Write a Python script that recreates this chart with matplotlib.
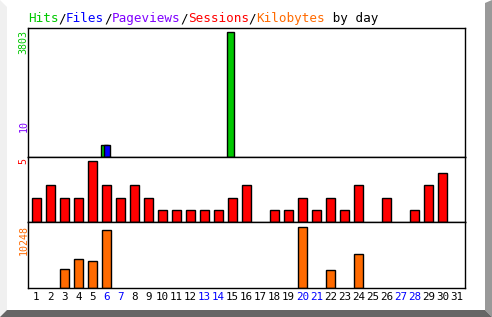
import matplotlib
matplotlib.use("Agg")
import matplotlib.pyplot as plt
from matplotlib.patches import Polygon

# daily stats
days = list(range(1, 32))
weekend = [6, 7, 13, 14, 20, 21, 27, 28]
hits = [0, 0, 0, 0, 0, 368, 0, 0, 0, 0, 0, 0, 0, 0, 3803, 0,
        0, 0, 0, 0, 0, 0, 0, 0, 0, 0, 0, 0, 0, 0, 0]
files = [0, 0, 0, 0, 0, 365, 0, 0, 0, 0, 0, 0, 0, 0, 0, 0,
         0, 0, 0, 0, 0, 0, 0, 0, 0, 0, 0, 0, 0, 0, 0]
pageviews = [0, 0, 0, 0, 0, 10, 0, 0, 0, 0, 0, 0, 0, 0, 0, 0,
             0, 0, 0, 0, 0, 0, 0, 0, 0, 0, 0, 0, 0, 0, 0]
sessions = [2, 3, 2, 2, 5, 3, 2, 3, 2, 1, 1, 1, 1, 1, 2, 3,
            0, 1, 1, 2, 1, 2, 1, 3, 0, 2, 0, 1, 3, 4, 0]
kbytes = [0, 0, 3190, 4870, 4540, 9740, 0, 0, 0, 0, 0, 0, 0, 0, 0, 0,
          0, 0, 0, 10248, 0, 3020, 0, 5710, 0, 0, 0, 0, 0, 0, 0]

C_HIT = "#00c800"
C_FILE = "#0000ff"
C_PAGE = "#8000ff"
C_SESS = "#ff0000"
C_KB = "#ff6a00"

W, H = 492, 317
fig = plt.figure(figsize=(W / 100, H / 100), dpi=100)
fig.patch.set_facecolor("white")

# bevel border
fig.patches.append(Polygon([(0, 0), (7, 7), (7, H - 7), (0, H)], closed=True,
                           transform=None, facecolor="#f0f0f0", edgecolor="none"))
fig.patches.append(Polygon([(W, 0), (W - 7, 7), (W - 7, H - 3), (W, H)], closed=True,
                           transform=None, facecolor="#999999", edgecolor="none"))
fig.patches.append(Polygon([(0, 0), (W, 0), (W - 7, 7), (7, 7)], closed=True,
                           transform=None, facecolor="#666666", edgecolor="none"))


def px_axes(x0, y0, x1, y1):
    # pixel box (from top-left) -> figure axes
    return fig.add_axes([x0 / W, 1 - y1 / H, (x1 - x0) / W, (y1 - y0) / H])


L, R = 28, 465
ax1 = px_axes(L, 28, R, 157)
ax2 = px_axes(L, 157, R, 222)
ax3 = px_axes(L, 222, R, 288)

lw = 1.0
for ax in (ax1, ax2, ax3):
    ax.set_xlim(0.4, 31.6)
    ax.set_xticks([])
    ax.set_yticks([])
    for s in ax.spines.values():
        s.set_linewidth(1.0)
        s.set_color("black")

# top panel: hits / files / pageviews, offset bars
x_hit = [d - 0.39 for d in days]
x_file = [d - 0.18 for d in days]
x_page = [d - 0.02 for d in days]
for xs, vals, w, c in ((x_hit, hits, 0.5, C_HIT), (x_file, files, 0.43, C_FILE),
                       (x_page, pageviews, 0.33, C_PAGE)):
    xv = [x for x, v in zip(xs, vals) if v > 0]
    vv = [v for v in vals if v > 0]
    ax1.bar(xv, vv, width=w, align="edge", color=c, edgecolor="black", linewidth=lw)
ax1.set_ylim(0, max(hits) * 129 / 125)

xs = [d for d, v in zip(days, sessions) if v > 0]
vs = [v for v in sessions if v > 0]
ax2.bar(xs, vs, width=0.62, color=C_SESS, edgecolor="black", linewidth=lw)
ax2.set_ylim(0, max(sessions) * 65 / 61)

xk = [d for d, v in zip(days, kbytes) if v > 0]
vk = [v for v in kbytes if v > 0]
ax3.bar(xk, vk, width=0.62, color=C_KB, edgecolor="black", linewidth=lw)
ax3.set_ylim(0, max(kbytes) * 66 / 61)

# day labels
for d in days:
    ax3.text(d, -0.14, str(d), transform=ax3.get_xaxis_transform(), ha="center", va="center",
             fontsize=7.8, family="DejaVu Sans Mono",
             color="#0000ff" if d in weekend else "black")

# rotated max labels
mono = "DejaVu Sans Mono"
fig.text(23.5 / W, 1 - 30 / H, str(max(hits)), rotation=90, ha="center", va="top",
         color=C_HIT, fontsize=7.2, family=mono)
fig.text(23.5 / W, 1 - 120 / H, str(max(pageviews)), rotation=90, ha="center", va="top",
         color=C_PAGE, fontsize=7.2, family=mono)
fig.text(23.5 / W, 1 - 158 / H, str(max(sessions)), rotation=90, ha="center", va="top",
         color=C_SESS, fontsize=7.2, family=mono)
fig.text(23.5 / W, 1 - 225 / H, str(max(kbytes)), rotation=90, ha="center", va="top",
         color=C_KB, fontsize=7.2, family=mono)

# multicolour title
title_parts = [("Hits", C_HIT), ("/", "black"), ("Files", C_FILE), ("/", "black"),
               ("Pageviews", C_PAGE), ("/", "black"), ("Sessions", C_SESS), ("/", "black"),
               ("Kilobytes", C_KB), (" by day", "black")]
fs = 9.1
cw = 0.602 * fs * 100 / 72
n = 0
for txt, col in title_parts:
    fig.text((28 + n * cw) / W, 1 - 22 / H, txt, color=col, fontsize=fs, family=mono,
             ha="left", va="baseline")
    n += len(txt)

fig.savefig("out.png", dpi=100)
